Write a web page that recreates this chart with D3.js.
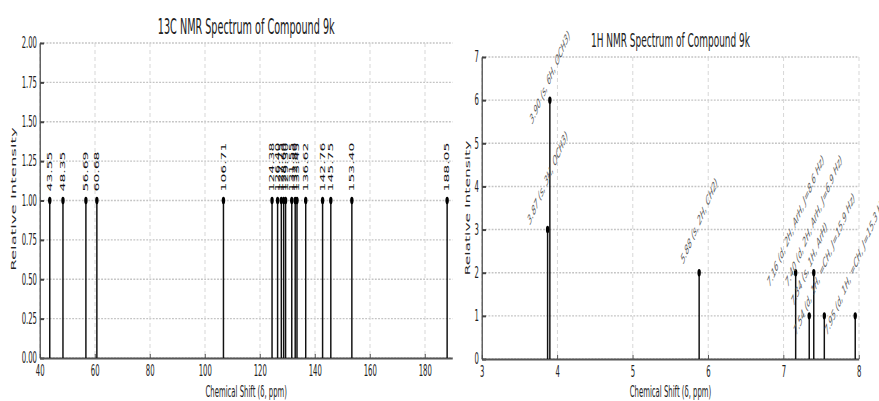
<!DOCTYPE html>
<html>
<head>
<meta charset="utf-8">
<script src="https://cdn.jsdelivr.net/npm/d3@7"></script>
<style>
    html, body { margin: 0; padding: 0; background: #fff; }
    #chart { width: 879px; height: 401px; }
    text { font-family: 'DejaVu Sans', sans-serif; }
</style>
</head>
<body>
<div id="chart"></div>
<script>
// 13C peaks (ppm), all drawn at unit intensity
const c13Shifts = [43.55, 48.35, 56.69, 60.68, 106.71, 124.38, 126.40, 127.75, 128.60, 129.30,
                   131.55, 132.80, 133.45, 136.62, 142.76, 145.75, 153.40, 188.05];
const c13Intensity = [1, 1, 1, 1, 1, 1, 1, 1, 1, 1, 1, 1, 1, 1, 1, 1, 1, 1];
const c13XTicks = [40, 60, 80, 100, 120, 140, 160, 180];
const c13YTicks = [0, 0.25, 0.5, 0.75, 1.0, 1.25, 1.5, 1.75, 2.0];

// 1H peaks
const h1Shifts = [3.87, 3.90, 5.88, 7.16, 7.34, 7.40, 7.54, 7.95];
const h1Intensity = [3, 6, 2, 2, 1, 2, 1, 1];
const h1Labels = [
    '3.87 (s, 3H, OCH3)',
    '3.90 (s, 6H, OCH3)',
    '5.88 (s, 2H, CH2)',
    '7.16 (d, 2H, ArH, J=8.6 Hz)',
    '7.34 (s, 1H, ArH)',
    '7.40 (d, 2H, ArH, J=6.9 Hz)',
    '7.54 (d, 1H, =CH, J=15.9 Hz)',
    '7.95 (d, 1H, =CH, J=15.3 Hz)'
];
const h1XTicks = [3, 4, 5, 6, 7, 8];
const h1YTicks = [0, 1, 2, 3, 4, 5, 6, 7];

// the source picture is squeezed horizontally, so everything is drawn
// in a wider virtual space and scaled down on x
const SX = 0.46;
const W = 879, H = 401;
const v = px => px / SX;

const svg = d3.select('#chart').append('svg')
    .attr('width', W)
    .attr('height', H);
const root = svg.append('g').attr('transform', `scale(${SX},1)`);

function drawPanel(cfg) {
    const g = root.append('g');

    const x = d3.scaleLinear().domain(cfg.xDomain).range([v(cfg.left), v(cfg.right)]);
    const y = d3.scaleLinear().domain(cfg.yDomain).range([cfg.bottom, cfg.top]);

    // grid
    g.append('g').selectAll('line')
        .data(cfg.yTicks)
        .enter().append('line')
        .attr('x1', v(cfg.left)).attr('x2', v(cfg.right))
        .attr('y1', d => y(d)).attr('y2', d => y(d))
        .attr('stroke', '#c4c4c4')
        .attr('stroke-width', 1.4)
        .attr('stroke-dasharray', '4,3');
    g.append('g').selectAll('line')
        .data(cfg.xTicks)
        .enter().append('line')
        .attr('x1', d => x(d)).attr('x2', d => x(d))
        .attr('y1', cfg.top).attr('y2', cfg.bottom)
        .attr('stroke', '#d4d4d4')
        .attr('stroke-width', 2)
        .attr('stroke-dasharray', '4,3');

    // axes
    const yAxis = g.append('g')
        .attr('transform', `translate(${v(cfg.left)},0)`)
        .call(d3.axisLeft(y).tickValues(cfg.yTicks).tickFormat(cfg.yFmt)
            .tickSizeInner(-v(4)).tickSizeOuter(0).tickPadding(v(3)));
    const xAxis = g.append('g')
        .attr('transform', `translate(0,${cfg.bottom})`)
        .call(d3.axisBottom(x).tickValues(cfg.xTicks).tickFormat(d3.format('d'))
            .tickSizeInner(-4).tickSizeOuter(0).tickPadding(7));

    [yAxis, xAxis].forEach(a => {
        a.selectAll('text')
            .attr('font-family', "'DejaVu Sans', sans-serif")
            .attr('font-size', 15)
            .attr('fill', '#222');
        a.selectAll('.tick line').attr('stroke', '#444').attr('stroke-width', 2);
        a.attr('font-family', null).attr('font-size', null);
    });
    yAxis.select('.domain').attr('stroke', '#555').attr('stroke-width', 3);
    xAxis.select('.domain').attr('stroke', '#555').attr('stroke-width', 2.2);

    // stems + markers
    const peaks = cfg.shifts.map((s, i) => ({ s, v: cfg.values[i], i }));
    g.append('g').selectAll('line')
        .data(peaks)
        .enter().append('line')
        .attr('x1', d => x(d.s)).attr('x2', d => x(d.s))
        .attr('y1', y(0)).attr('y2', d => y(d.v))
        .attr('stroke', '#111')
        .attr('stroke-width', 3.2);
    g.append('g').selectAll('circle')
        .data(peaks)
        .enter().append('circle')
        .attr('cx', d => x(d.s))
        .attr('cy', d => y(d.v))
        .attr('r', 3.7)
        .attr('fill', '#000');

    // titles
    g.append('text')
        .attr('x', v((cfg.left + cfg.right) / 2))
        .attr('y', cfg.titleY)
        .attr('text-anchor', 'middle')
        .attr('font-size', cfg.titleSize)
        .attr('fill', '#222')
        .text(cfg.title);
    g.append('text')
        .attr('x', v((cfg.left + cfg.right) / 2))
        .attr('y', 397)
        .attr('text-anchor', 'middle')
        .attr('font-size', 15)
        .attr('fill', '#222')
        .text('Chemical Shift (δ, ppm)');
    g.append('text')
        .attr('transform', `translate(${v(cfg.ylabelX)},${cfg.ylabelY}) rotate(-90)`)
        .attr('text-anchor', 'middle')
        .attr('dominant-baseline', 'central')
        .attr('font-size', cfg.ylabelSize)
        .attr('fill', '#222')
        .text('Relative Intensity');

    return { g, x, y, peaks };
}

// 13C panel
const left = drawPanel({
    left: 40, right: 452.5, top: 43, bottom: 358,
    xDomain: [40, 190], yDomain: [0, 2],
    xTicks: c13XTicks, yTicks: c13YTicks, yFmt: d3.format('.2f'),
    shifts: c13Shifts, values: c13Intensity,
    title: '13C NMR Spectrum of Compound 9k', titleY: 34, titleSize: 21,
    ylabelX: 13, ylabelY: 199, ylabelSize: 16.5
});
left.g.append('g').selectAll('text')
    .data(left.peaks)
    .enter().append('text')
    .attr('transform', d => `translate(${left.x(d.s)},${left.y(d.v) - 9}) rotate(-90)`)
    .attr('dominant-baseline', 'central')
    .attr('font-size', 14)
    .attr('fill', '#111')
    .text(d => d.s.toFixed(2));

// 1H panel
const right = drawPanel({
    left: 482, right: 859, top: 57, bottom: 359,
    xDomain: [3, 8], yDomain: [0, 7],
    xTicks: h1XTicks, yTicks: h1YTicks, yFmt: d3.format('d'),
    shifts: h1Shifts, values: h1Intensity,
    title: '1H NMR Spectrum of Compound 9k', titleY: 47, titleSize: 19.5,
    ylabelX: 468, ylabelY: 208, ylabelSize: 15.5
});
const ANG = 47;
right.g.append('g').selectAll('text')
    .data(right.peaks)
    .enter().append('text')
    .attr('text-anchor', 'middle')
    .attr('dominant-baseline', 'central')
    .attr('font-size', 13)
    .attr('font-style', 'italic')
    .attr('fill', '#5a5a5a')
    .text(d => h1Labels[d.i])
    .each(function(d) {
        const len = this.getComputedTextLength();
        const rad = ANG * Math.PI / 180;
        const half = (len * Math.sin(rad) + 13 * Math.cos(rad)) / 2;
        let cy = right.y(d.v) - 52;
        if (cy - half < 28) cy = 28 + half;   // keep label inside the picture
        d3.select(this).attr('transform', `translate(${right.x(d.s)},${cy}) rotate(${-ANG})`);
    });
</script>
</body>
</html>
